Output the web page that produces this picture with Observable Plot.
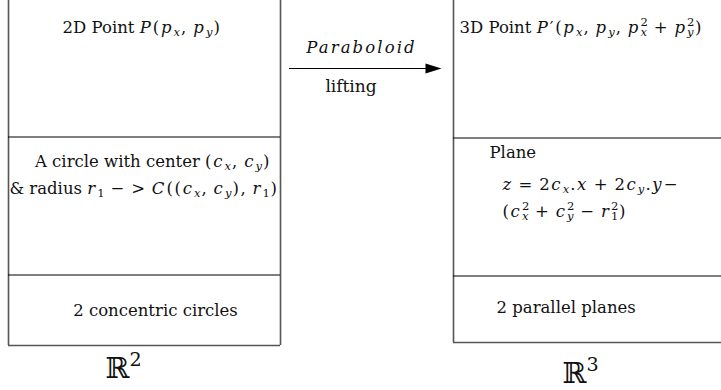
<!DOCTYPE html>
<html><head><meta charset="utf-8">
<script src="https://cdn.jsdelivr.net/npm/d3@7"></script>
<script src="https://cdn.jsdelivr.net/npm/@observablehq/plot@0.6"></script>
<style>body{margin:0;background:#fff}</style>
</head><body><div id="chart"></div>
<script>
// Diagram geometry (in pixel-like domain units)
const verticalEdges = [
  {x: 8,   y1: 0, y2: 345},
  {x: 280, y1: 0, y2: 345},
  {x: 453, y1: 0, y2: 342}
];
const dividers = [
  {y: 136.5, x1: 8,   x2: 280},
  {y: 274.5, x1: 8,   x2: 280},
  {y: 137.5, x1: 453, x2: 721},
  {y: 275.5, x1: 453, x2: 721}
];
const bottomEdges = [
  {y: 345, x1: 8,   x2: 280},
  {y: 342, x1: 453, x2: 721}
];
const arrows = [{id: "lift", x1: 289, x2: 441, y: 68, headLength: 16, headWidth: 10}];

// Labels: baseline position, anchor, font size, text with $math$ markup
const labelText = [
  "2D Point $P(p_x, p_y)$",
  "$Paraboloid$",
  "lifting",
  "3D Point $P′(p_x, p_y, p_x^2 + p_y^2)$",
  "A circle with center $(c_x, c_y)$",
  "& radius $r_1 − > C((c_x, c_y), r_1)$",
  "Plane",
  "$z = 2c_x.x + 2c_y.y−$",
  "$(c_x^2 + c_y^2 − r_1^2)$",
  "2 concentric circles",
  "2 parallel planes",
  "$ℝ^2$",
  "$ℝ^3$"
];
const labelX = [141.5, 361, 350.5, 459, 152.5, 143.5, 489, 502, 502, 155, 496, 105, 562];
const labelY = [32, 52, 91, 32, 166, 193, 157, 189, 216, 315, 312, 377, 382];
const labelAnchor = ["middle","middle","middle","start","middle","middle","start","start","start","middle","start","start","start"];
const labelSize = [16.5, 16.5, 17, 16.5, 16.5, 16.5, 16.5, 16.5, 16.5, 16.5, 16.5, 29, 29];

const labels = labelText.map((t, i) => ({
  text: t, plain: t.replace(/[$_^]/g, ""),
  x: labelX[i], y: labelY[i], anchor: labelAnchor[i], size: labelSize[i]
}));

const arrowHeads = arrows.flatMap(a => [
  {id: a.id, x: a.x2 - a.headLength, y: a.y - a.headWidth / 2},
  {id: a.id, x: a.x2, y: a.y},
  {id: a.id, x: a.x2 - a.headLength, y: a.y + a.headWidth / 2}
]);

const FONT = "DejaVu Serif, serif";

const chart = Plot.plot({
  width: 721, height: 390, margin: 0,
  x: {domain: [0, 721], range: [0, 721], axis: null},
  y: {domain: [0, 390], range: [0, 390], axis: null},
  style: {background: "#fff", fontFamily: FONT},
  marks: [
    Plot.ruleX(verticalEdges, {x: "x", y1: "y1", y2: "y2", stroke: "#555", strokeWidth: 1.6}),
    Plot.ruleY(dividers, {y: "y", x1: "x1", x2: "x2", stroke: "#000", strokeWidth: 1.1}),
    Plot.ruleY(bottomEdges, {y: "y", x1: "x1", x2: "x2", stroke: "#555", strokeWidth: 1.5}),
    Plot.ruleY(arrows, {y: "y", x1: "x1", x2: d => d.x2 - d.headLength + 1, stroke: "#000", strokeWidth: 1.2}),
    Plot.line(arrowHeads, {x: "x", y: "y", z: "id", fill: "#000", stroke: "none"}),
    Plot.text(labels, {x: "x", y: "y", text: "plain", fontSize: "size", lineAnchor: "bottom", fill: "#111"})
  ]
});
document.getElementById("chart").appendChild(chart);

// Rich text: $...$ math mode, letters italic, _x subscript, ^x superscript
function kindOf(ch, math) {
  if (!math) return "text";
  if (ch === " ") return "space";
  return /[A-Za-z]/.test(ch) ? "italic" : "upright";
}
function parse(s) {
  const runs = [];
  let math = false, prevSub = false;
  for (let i = 0; i < s.length; i++) {
    const ch = s[i];
    if (ch === "$") { math = !math; continue; }
    if (math && (ch === "_" || ch === "^")) {
      const c = s[++i];
      const script = ch === "_" ? -1 : 1;
      runs.push({text: c, kind: kindOf(c, math), script, stack: script === 1 && prevSub});
      prevSub = script === -1;
      continue;
    }
    prevSub = false;
    const kind = kindOf(ch, math);
    const last = runs[runs.length - 1];
    if (last && last.script === 0 && last.kind === kind) last.text += ch;
    else runs.push({text: ch, kind, script: 0, stack: false});
  }
  return runs;
}

const NS = "http://www.w3.org/2000/svg";
d3.select(chart).selectAll('g[aria-label="text"] text').each(function (_, i) {
  const d = labels[i];
  const el = this;
  while (el.firstChild) el.removeChild(el.firstChild);
  el.setAttribute("text-anchor", d.anchor);
  el.style.whiteSpace = "pre";
  el.style.fontFamily = FONT;
  const fs = d.size;
  const isR = /ℝ/.test(d.text);
  let cur = 0, prev = null;
  for (const r of parse(d.text)) {
    const t = document.createElementNS(NS, "tspan");
    t.textContent = r.text;
    const size = r.script ? fs * (isR ? 0.66 : 0.7) : fs;
    t.setAttribute("font-size", size);
    if (r.kind === "italic") t.setAttribute("font-style", "italic");
    if (!isR) {
      if (r.kind === "italic") t.setAttribute("letter-spacing", r.script ? 1 : 2.1);
      else if (r.kind === "upright") t.setAttribute("letter-spacing", r.script ? 0.6 : 1.6);
    }
    const target = r.script === -1 ? fs * 0.24 : r.script === 1 ? -fs * 0.38 : 0;
    if (target !== cur) { t.setAttribute("dy", (target - cur).toFixed(2)); cur = target; }
    if (r.stack && prev) t.setAttribute("dx", (-prev.getComputedTextLength()).toFixed(2));
    el.appendChild(t);
    prev = t;
  }
});
</script>
</body></html>
